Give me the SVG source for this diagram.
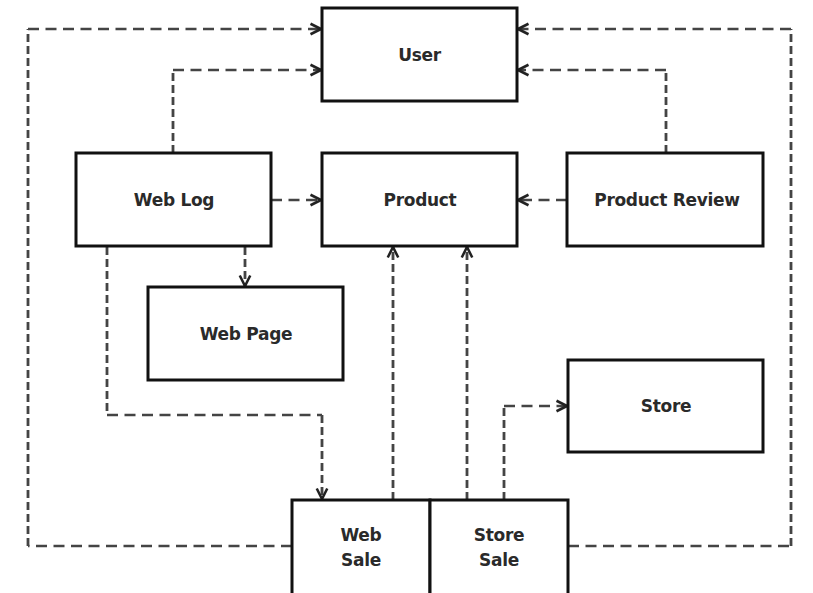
<svg xmlns="http://www.w3.org/2000/svg" width="813" height="593" viewBox="0 0 813 593">
  <style>
    .box { fill: #ffffff; stroke: #111111; stroke-width: 3; }
    .lbl { font-family: "DejaVu Sans", "Liberation Sans", sans-serif; font-size: 17px; font-weight: bold; fill: #2a2a2a; text-anchor: middle; dominant-baseline: central; letter-spacing: -0.3px; }
    .h { fill: none; stroke: #444444; stroke-width: 2.4; stroke-dasharray: 11 6.5; }
    .v { fill: none; stroke: #444444; stroke-width: 2.8; stroke-dasharray: 8 4; }
  </style>
  <defs>
    <marker id="arrow" markerUnits="userSpaceOnUse" markerWidth="14" markerHeight="14" viewBox="-1 -1 12 12" refX="10" refY="5" orient="auto">
      <path d="M1,0.5 L10,5 L1,9.5" fill="none" stroke="#222222" stroke-width="2.2"/>
    </marker>
  </defs>
  <rect width="813" height="593" fill="#ffffff"/>

  <g id="connectors">
    <!-- Web Sale -> User (outer left loop) -->
    <path class="h" d="M292,546 H28"/>
    <path class="v" d="M28,546 V29"/>
    <path class="h" d="M28,29 H321" marker-end="url(#arrow)"/>
    <!-- Web Log -> User -->
    <path class="v" d="M173,153 V70"/>
    <path class="h" d="M173,70 H321" marker-end="url(#arrow)"/>
    <!-- Store Sale -> User (outer right loop) -->
    <path class="h" d="M568,546 H791"/>
    <path class="v" d="M791,546 V29"/>
    <path class="h" d="M791,29 H518" marker-end="url(#arrow)"/>
    <!-- Product Review -> User -->
    <path class="v" d="M666,153 V70"/>
    <path class="h" d="M666,70 H518" marker-end="url(#arrow)"/>
    <!-- Web Log -> Product -->
    <path class="h" d="M271,200 H321" marker-end="url(#arrow)"/>
    <!-- Product Review -> Product -->
    <path class="h" d="M567,200 H518" marker-end="url(#arrow)"/>
    <!-- Web Log -> Web Page -->
    <path class="v" d="M245,247 V286" marker-end="url(#arrow)"/>
    <!-- Web Log -> Web Sale -->
    <path class="v" d="M107,247 V415"/>
    <path class="h" d="M107,415 H322"/>
    <path class="v" d="M322,415 V499" marker-end="url(#arrow)"/>
    <!-- Web Sale -> Product -->
    <path class="v" d="M393,500 V247" marker-end="url(#arrow)"/>
    <!-- Store Sale -> Product -->
    <path class="v" d="M467,500 V247" marker-end="url(#arrow)"/>
    <!-- Store Sale -> Store -->
    <path class="v" d="M504,500 V406"/>
    <path class="h" d="M504,406 H567" marker-end="url(#arrow)"/>
  </g>

  <g id="user">
    <rect class="box" x="322" y="8" width="195" height="93"/>
    <text class="lbl" x="419.5" y="55">User</text>
  </g>
  <g id="web-log">
    <rect class="box" x="76" y="153" width="195" height="93"/>
    <text class="lbl" x="174" y="200">Web Log</text>
  </g>
  <g id="product">
    <rect class="box" x="322" y="153" width="195" height="93"/>
    <text class="lbl" x="420" y="200">Product</text>
  </g>
  <g id="product-review">
    <rect class="box" x="567" y="153" width="196" height="93"/>
    <text class="lbl" x="667" y="200">Product Review</text>
  </g>
  <g id="web-page">
    <rect class="box" x="148" y="287" width="195" height="93"/>
    <text class="lbl" x="246" y="334">Web Page</text>
  </g>
  <g id="store">
    <rect class="box" x="568" y="360" width="195" height="92"/>
    <text class="lbl" x="666" y="406">Store</text>
  </g>
  <g id="web-sale">
    <rect class="box" x="292" y="500" width="138" height="110"/>
    <text class="lbl" x="361" y="535">Web</text>
    <text class="lbl" x="361" y="560">Sale</text>
  </g>
  <g id="store-sale">
    <rect class="box" x="430" y="500" width="138" height="110"/>
    <text class="lbl" x="499" y="535">Store</text>
    <text class="lbl" x="499" y="560">Sale</text>
  </g>
</svg>
